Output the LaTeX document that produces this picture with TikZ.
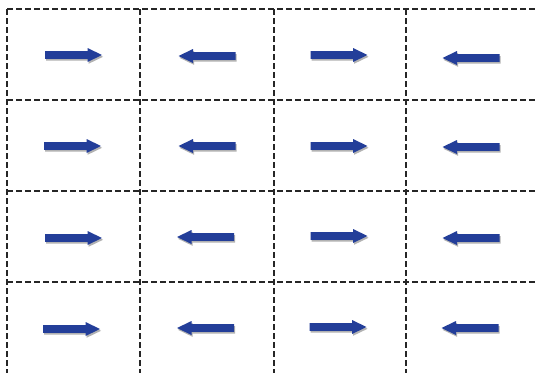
\documentclass[tikz,border=0pt]{standalone}
\begin{document}
\begin{tikzpicture}[x=1pt,y=-1pt,
  gridline/.style={draw=black!85,line width=1.1pt,dash pattern=on 6pt off 3pt},
  arrfill/.style={fill={rgb,255:red,35;green,62;blue,153}},
  shadowfill/.style={fill=black!30},
  rarr/.pic={
    \fill[shadowfill] (-27.5,-2) -- (15,-2) -- (15,-5.2) -- (29.5,1.8) -- (15,8.8) -- (15,5.6) -- (-27.5,5.6) -- cycle;
    \fill[arrfill] (-28.5,-3.8) -- (14,-3.8) -- (14,-7) -- (28.5,0) -- (14,7) -- (14,3.8) -- (-28.5,3.8) -- cycle;
  },
  larr/.pic={
    \fill[shadowfill] (29.5,-2) -- (-13,-2) -- (-13,-5.2) -- (-27.5,1.8) -- (-13,8.8) -- (-13,5.6) -- (29.5,5.6) -- cycle;
    \fill[arrfill] (28.5,-3.8) -- (-14,-3.8) -- (-14,-7) -- (-28.5,0) -- (-14,7) -- (-14,3.8) -- (28.5,3.8) -- cycle;
  }]
\useasboundingbox (0,0) rectangle (538,373);
\fill[white] (0,0) rectangle (538,373);
% grid
\foreach \x in {7,140,274,406} \draw[gridline] (\x,9) -- (\x,373);
\foreach \y in {9,100,191,282} \draw[gridline] (7,\y) -- (538,\y);
% row 1
\pic at (73.5,55) {rarr};
\pic at (207,56) {larr};
\pic at (339,55) {rarr};
\pic at (471,58) {larr};
% row 2
\pic at (72.5,146) {rarr};
\pic at (207,146) {larr};
\pic at (339,146) {rarr};
\pic at (471,147) {larr};
% row 3
\pic at (73.5,238) {rarr};
\pic at (205.5,237) {larr};
\pic at (339,236) {rarr};
\pic at (471,238) {larr};
% row 4
\pic at (71.5,329) {rarr};
\pic at (205.5,328) {larr};
\pic at (338,327) {rarr};
\pic at (470,328) {larr};
\end{tikzpicture}
\end{document}
